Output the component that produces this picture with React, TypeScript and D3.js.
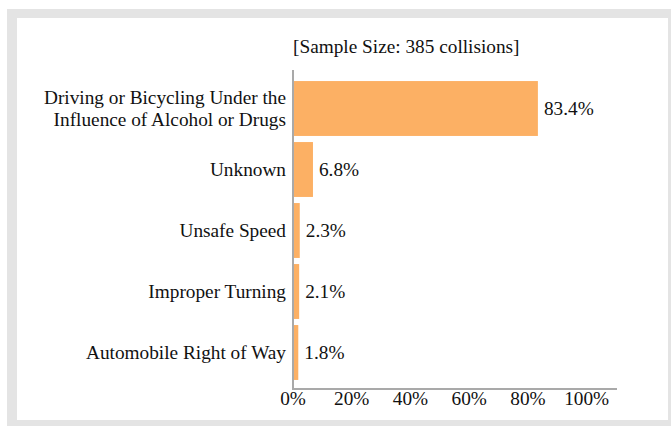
import React from "react";
import * as d3 from "d3";

const categories = [
  ["Driving or Bicycling Under the", "Influence of Alcohol or Drugs"],
  ["Unknown"],
  ["Unsafe Speed"],
  ["Improper Turning"],
  ["Automobile Right of Way"],
];
const values = [83.4, 6.8, 2.3, 2.1, 1.8];
const xTicks = [0, 20, 40, 60, 80, 100];
const title = "[Sample Size: 385 collisions]";

const W = 671;
const H = 426;
const FONT = "Liberation Serif, serif";
const FS = 19.3;

export default function App() {
  const keys = categories.map((c) => c.join(" "));
  const x = d3.scaleLinear().domain([0, 110]).range([293, 616]);
  const y = d3
    .scaleBand<string>()
    .domain(keys)
    .range([78, 383])
    .paddingInner(0.1)
    .paddingOuter(0.05);
  const axisY = 389;
  const axisColor = "#a9a9a9";
  const txt = { fontFamily: FONT, fontSize: FS, fill: "#111" } as const;

  return (
    <svg
      width={W}
      height={H}
      style={{ position: "absolute", left: 0, top: 0, display: "block", fontFamily: FONT }}
    >
      <rect x={0} y={0} width={W} height={H} fill="#ffffff" />
      <rect x={7} y={9} width={W} height={H} fill="#e4e4e4" />
      <rect x={17} y={18} width={651} height={402} fill="#ffffff" />

      <text x={293} y={53} style={txt}>
        {title}
      </text>

      {keys.map((k, i) => {
        const y0 = y(k) as number;
        const bw = y.bandwidth();
        const cy = y0 + bw / 2;
        const lines = categories[i];
        return (
          <g key={k}>
            <rect
              x={x(0)}
              y={y0}
              width={x(values[i]) - x(0)}
              height={bw}
              fill="#fcb064"
            />
            <text x={x(values[i]) + 6} y={cy + 6} style={txt}>
              {values[i].toFixed(1) + "%"}
            </text>
            <text x={286} style={txt} textAnchor="end">
              {lines.map((ln, j) => (
                <tspan
                  key={j}
                  x={286}
                  y={cy + 6 + (j - (lines.length - 1) / 2) * 22}
                >
                  {ln}
                </tspan>
              ))}
            </text>
          </g>
        );
      })}

      <line x1={293} x2={293} y1={70} y2={axisY + 1} stroke={axisColor} strokeWidth={2} />
      <line x1={292} x2={617} y1={axisY} y2={axisY} stroke={axisColor} strokeWidth={2} />

      {xTicks.map((t) => (
        <text key={t} x={x(t)} y={axisY + 16} style={txt} textAnchor="middle">
          {t + "%"}
        </text>
      ))}
    </svg>
  );
}
